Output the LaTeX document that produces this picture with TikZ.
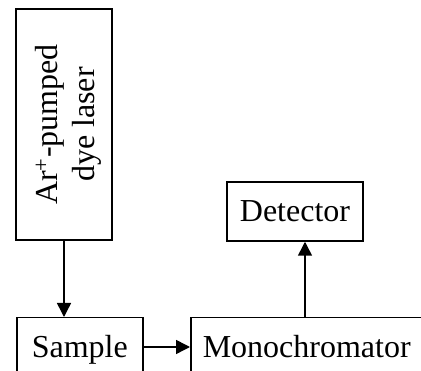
\documentclass[tikz,border=0pt]{standalone}
\usepackage{fontspec}
\setmainfont{Liberation Serif}
\usetikzlibrary{arrows.meta}
\begin{document}
\begin{tikzpicture}[x=1pt,y=-1pt,
  box/.style={draw,line width=1.5pt,inner sep=0pt,font=\fontsize{32}{37}\selectfont},
  conn/.style={line width=1.5pt,-{Triangle[length=14pt,width=14pt]}}]
\clip (0,0) rectangle (421,371);
\useasboundingbox (0,0) rectangle (421,371);
\node[box,minimum width=96pt,minimum height=231pt] (laser) at (64,124.5)
  {\rotatebox{90}{\begin{tabular}{@{}c@{}}\rule{0pt}{35pt}Ar\textsuperscript{+}-pumped\\dye laser\end{tabular}}};
\node[box,anchor=north west,minimum width=126pt,text height=22pt,text depth=10pt,inner ysep=18pt] (sample) at (16,317) {Sample};
\node[box,anchor=north west,minimum width=232pt,text height=22pt,text depth=10pt,inner ysep=18pt] (mono) at (190,317) {Monochromator};
\node[box,minimum width=136pt,minimum height=59pt] (det) at (295,211.5) {Detector};
\coordinate (mtop) at (305,317);
\draw[conn] (laser.south) -- (laser.south |- sample.north);
\draw[conn] (sample.east |- 0,347) -- (mono.west |- 0,347);
\draw[conn] (mtop) -- (mtop |- det.south);
\end{tikzpicture}
\end{document}
